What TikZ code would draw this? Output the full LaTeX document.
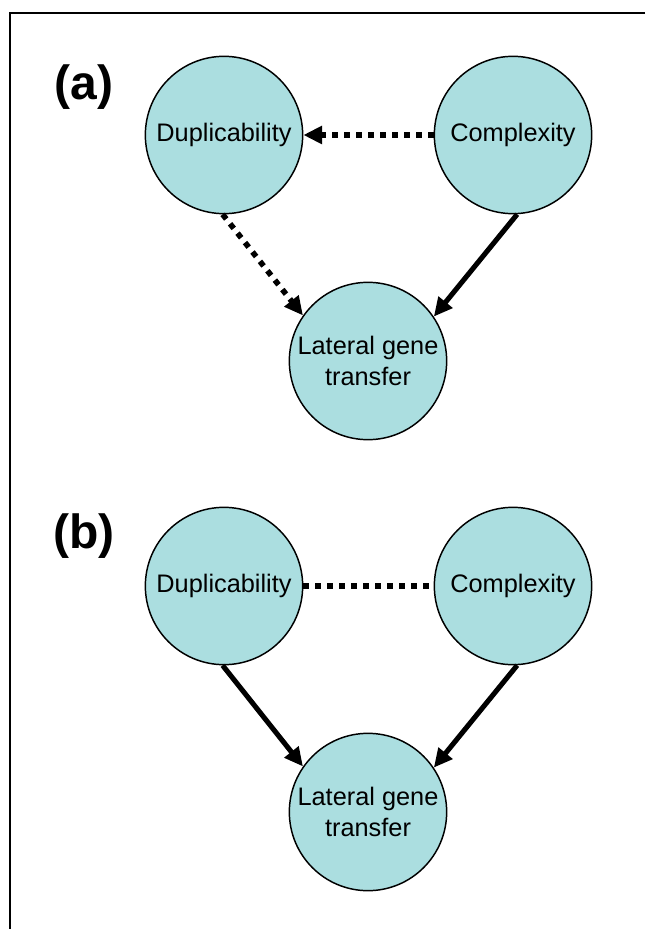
\documentclass[tikz,border=0pt]{standalone}
\usepackage{fontspec}
\setmainfont{Liberation Sans}
\usepackage{tikz}
\usetikzlibrary{arrows.meta}
\definecolor{cellblue}{RGB}{171,222,224}
\tikzset{
	factor/.style={circle, draw=black, line width=1.1pt, fill=cellblue, minimum size=118pt, inner sep=0pt, align=center, font=\fontsize{19}{23}\selectfont},
	panel/.style={font=\bfseries\fontsize{36}{40}\selectfont},
	effect/.style={line width=3.8pt, -{Triangle[length=14pt,width=13pt]}},
	weak/.style={line width=4.2pt, dash pattern=on 4.4pt off 4.6pt}
}

\begin{document}
\begin{tikzpicture}[x=0.75pt, y=-0.75pt]
	\useasboundingbox (0,0) rectangle (646,930);
	\draw[line width=1.5pt] (645,13) -- (10,13) -- (10,929);
	% panel (a)
	\node[panel] (tagA) at (84,87) {(a)};
	\node[factor] (dupA) at (224,135) {Duplicability};
	\node[factor] (cxA) at (513,135) {Complexity};
	\node[factor] (lgtA) at (368,361) {Lateral gene\\transfer};
	\draw[effect, weak] (cxA.west) -- (dupA.east);
	\draw[effect, weak] (dupA.-91) -- (lgtA.145);
	\draw[effect] (cxA.-87) -- (lgtA.34);
	% panel (b)
	\node[panel] (tagB) at (84,536) {(b)};
	\node[factor] (dupB) at (224,586) {Duplicability};
	\node[factor] (cxB) at (513,586) {Complexity};
	\node[factor] (lgtB) at (368,812) {Lateral gene\\transfer};
	\draw[weak] (dupB.east) -- (cxB.west);
	\draw[effect] (dupB.-91) -- (lgtB.145);
	\draw[effect] (cxB.-87) -- (lgtB.34);
\end{tikzpicture}
\end{document}
